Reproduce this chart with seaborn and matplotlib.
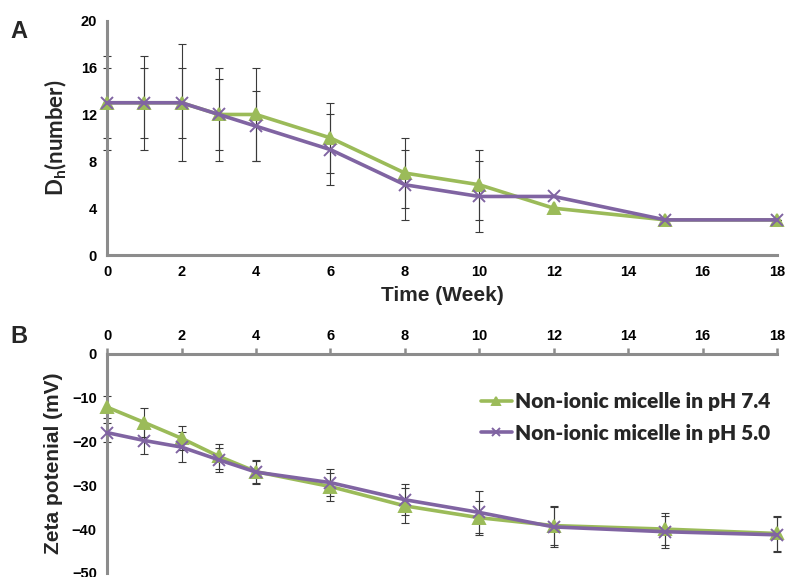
import matplotlib
matplotlib.use("Agg")
import matplotlib.pyplot as plt
import numpy as np
import pandas as pd
import seaborn as sns

WEEKS = [0, 1, 2, 3, 4, 6, 8, 10, 12, 15, 18]
LABEL_74 = "Non-ionic micelle in pH 7.4"
LABEL_50 = "Non-ionic micelle in pH 5.0"

# panel A: hydrodynamic diameter (number)
SIZE_74 = [13, 13, 13, 12, 12, 10, 7, 6, 4, 3, 3]
SIZE_74_ERR = [4, 4, 5, 4, 4, 3, 3, 3, 0, 0, 0]
SIZE_50 = [13, 13, 13, 12, 11, 9, 6, 5, 5, 3, 3]
SIZE_50_ERR = [3, 3, 3, 3, 3, 3, 3, 3, 0, 0, 0]

# panel B: zeta potential
ZETA_74 = [-12.2, -15.7, -19.3, -23.4, -26.9, -30.3, -34.7, -37.4, -39.2, -40.0, -41.0]
ZETA_74_ERR = [2.5, 3.3, 2.7, 2.8, 2.6, 3.2, 4.0, 3.9, 4.5, 3.7, 4.0]
ZETA_50 = [-18.0, -19.8, -21.3, -24.2, -27.0, -29.4, -33.3, -36.2, -39.5, -40.6, -41.3]
ZETA_50_ERR = [2.2, 3.0, 3.4, 2.7, 2.6, 3.0, 3.5, 4.8, 4.5, 3.7, 4.0]

GREEN = "#9BBB59"
PURPLE = "#8064A2"
AXIS_GREY = "#8c8c8c"
TICK_FONT = "Liberation Sans"
LABEL_FONT = "Lato"


def draw_panel(ax, v74, e74, v50, e50):
    for vals, errs in ((v74, e74), (v50, e50)):
        ax.errorbar(WEEKS, vals, yerr=errs, fmt="none", ecolor="#3a3a3a",
                    elinewidth=0.8, capsize=3, capthick=0.8, zorder=2, clip_on=False)
    series = ((v74, GREEN, "^", LABEL_74), (v50, PURPLE, "x", LABEL_50))
    for vals, colour, marker, label in series:
        frame = pd.DataFrame({"week": WEEKS, "value": vals})
        sns.lineplot(data=frame, x="week", y="value", color=colour, marker=marker,
                     linewidth=2.6, markersize=8, markeredgewidth=1.4,
                     markeredgecolor=colour, label=label, ax=ax, zorder=3, clip_on=False)
    ax.set_xlim(0, 18)
    ax.set_xticks(np.arange(0, 19, 2))
    ax.tick_params(colors=AXIS_GREY, width=1.8, length=4, labelcolor="black", labelsize=10.5)
    ax.grid(False)


sns.set_theme(style="white")
plt.rcParams["font.family"] = [TICK_FONT, "DejaVu Sans"]
plt.rcParams["font.weight"] = "bold"

fig = plt.figure(figsize=(7.88, 5.77), dpi=100)
ax_a = fig.add_axes([0.136, 0.558, 0.850, 0.406])
ax_b = fig.add_axes([0.136, 0.007, 0.850, 0.380])

# panel A
draw_panel(ax_a, SIZE_74, SIZE_74_ERR, SIZE_50, SIZE_50_ERR)
ax_a.get_legend().remove()
ax_a.set_ylim(0, 20)
ax_a.set_yticks(np.arange(0, 21, 4))
for side in ("top", "right"):
    ax_a.spines[side].set_visible(False)
for side in ("left", "bottom"):
    ax_a.spines[side].set_color(AXIS_GREY)
    ax_a.spines[side].set_linewidth(2.2)
ax_a.set_xlabel("Time (Week)", fontsize=15, fontweight="bold", labelpad=5)
ax_a.set_ylabel(r"D$_\mathregular{h}$(number)", fontsize=16, fontweight="bold",
                fontfamily=LABEL_FONT, labelpad=8)

# panel B, x axis drawn on top
draw_panel(ax_b, ZETA_74, ZETA_74_ERR, ZETA_50, ZETA_50_ERR)
ax_b.set_ylim(-50, 0)
ax_b.set_yticks(np.arange(-50, 1, 10))
ax_b.xaxis.tick_top()
for side in ("bottom", "right"):
    ax_b.spines[side].set_visible(False)
for side in ("left", "top"):
    ax_b.spines[side].set_color(AXIS_GREY)
    ax_b.spines[side].set_linewidth(2.2)
ax_b.set_xlabel("")
ax_b.set_ylabel("Zeta potenial (mV)", fontsize=15, fontweight="bold", labelpad=6)
leg = ax_b.legend(loc="upper right", bbox_to_anchor=(1.018, 0.91), frameon=False,
                  handlelength=1.5, handletextpad=0.15, labelspacing=0.6, markerscale=0.7,
                  prop={"family": LABEL_FONT, "weight": "heavy", "size": 15})

fig.text(0.013, 0.935, "A", fontsize=17, fontweight="bold")
fig.text(0.013, 0.405, "B", fontsize=17, fontweight="bold")

fig.savefig("out.png", dpi=100)
